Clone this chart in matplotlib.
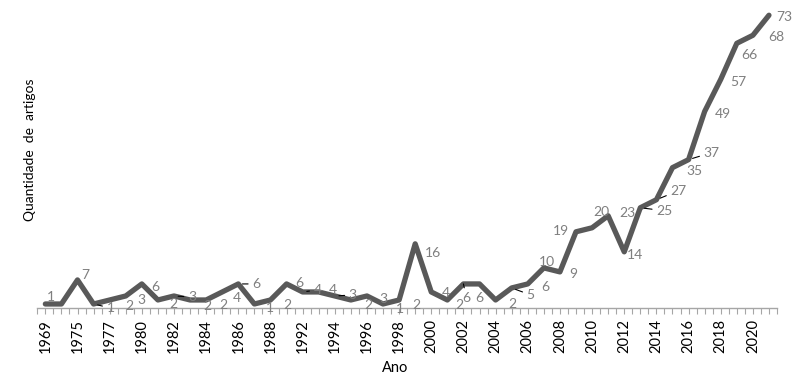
import matplotlib
matplotlib.use('Agg')
import matplotlib.pyplot as plt

# ---- data ----
anos = ['1969', '1973', '1975', '1976', '1977', '1979', '1980', '1981', '1982',
        '1983', '1984', '1985', '1986', '1987', '1988', '1990', '1992', '1993',
        '1994', '1995', '1996', '1997', '1998', '1999', '2000', '2001', '2002',
        '2003', '2004', '2005', '2006', '2007', '2008', '2009', '2010', '2011',
        '2012', '2013', '2014', '2015', '2016', '2017', '2018', '2019', '2020',
        '2021']
quantidade = [1, 1, 7, 1, 2, 3, 6, 2, 3, 2,
              2, 4, 6, 1, 2, 6, 4, 4, 3, 2,
              3, 1, 2, 16, 4, 2, 6, 6, 2, 5,
              6, 10, 9, 19, 20, 23, 14, 25, 27, 35,
              37, 49, 57, 66, 68, 73]
rotulos_x = [a if i % 2 == 0 else '' for i, a in enumerate(anos)]

# ---- label placement (pixels, style only) ----
label_offsets = [(6, 7), None, (8, 5), (17, -4), (20, -6), (16, -4), (13, -3), (15, -4),
                 (18, -1), (17, -6), (17, -5), (15, -6), (18, 0), (16, -4), (17, -5),
                 (13, 1), (15, 2), (14, 2), (18, 1), (17, -5), (16, -3), (17, -5),
                 (17, -5), (18, -9), (15, -1), (12, -5), (3, -14), (0, -14), (17, -4),
                 (19, -7), (18, -3), (3, 6), (13, -2), (-15, 1), (9, 16), (19, 3),
                 (11, -3), (24, -3), (22, 9), (22, -3), (23, 7), (18, -3), (18, -3),
                 (13, -12), (23, -2), (15, -2)]
leaders = {3, 8, 12, 16, 18, 26, 29, 37, 38, 40}

plt.rcParams['font.family'] = ['Lato', 'DejaVu Sans']

fig = plt.figure(figsize=(8.0, 3.83), dpi=100)
ax = fig.add_axes([37.3 / 800, 1 - 308 / 383, 739.7 / 800, 308 / 383])

x = list(range(len(anos)))
ax.plot(x, quantidade, color='#595959', lw=3.8, solid_joinstyle='round',
        solid_capstyle='round', zorder=3, clip_on=False)

for i, (v, off) in enumerate(zip(quantidade, label_offsets)):
    if off is None:
        continue
    kw = {}
    if i in leaders:
        kw['arrowprops'] = dict(arrowstyle='-', color='black', lw=0.8,
                                shrinkA=1, shrinkB=3)
    ax.annotate(str(v), (i, v), xytext=off, textcoords='offset pixels',
                ha='center', va='center', fontsize=10, color='#7f7f7f',
                zorder=4, annotation_clip=False, **kw)

ax.set_xlim(-0.5, len(anos) - 0.5)
ax.set_ylim(0, 76.8)

ax.set_xticks(x)
ax.set_xticklabels(rotulos_x, rotation=90, fontsize=10.5, color='black')
ax.set_xticks([i + 0.5 for i in range(-1, len(anos))], minor=True)
ax.tick_params(axis='x', which='both', length=4, width=0.8, color='#a6a6a6',
               pad=4, direction='out')
ax.set_yticks([])

for s in ['top', 'right', 'left']:
    ax.spines[s].set_visible(False)
ax.spines['bottom'].set_color('#a6a6a6')
ax.spines['bottom'].set_linewidth(1.0)

fig.text(395 / 800, 1 - 368 / 383, 'Ano', ha='center', va='center',
         fontsize=10.5, color='black')
fig.text(30 / 800, 1 - 150 / 383, 'Quantidade  de  artigos', ha='center',
         va='center', rotation=90, fontsize=10, color='black')

fig.savefig('out.png', dpi=100)
